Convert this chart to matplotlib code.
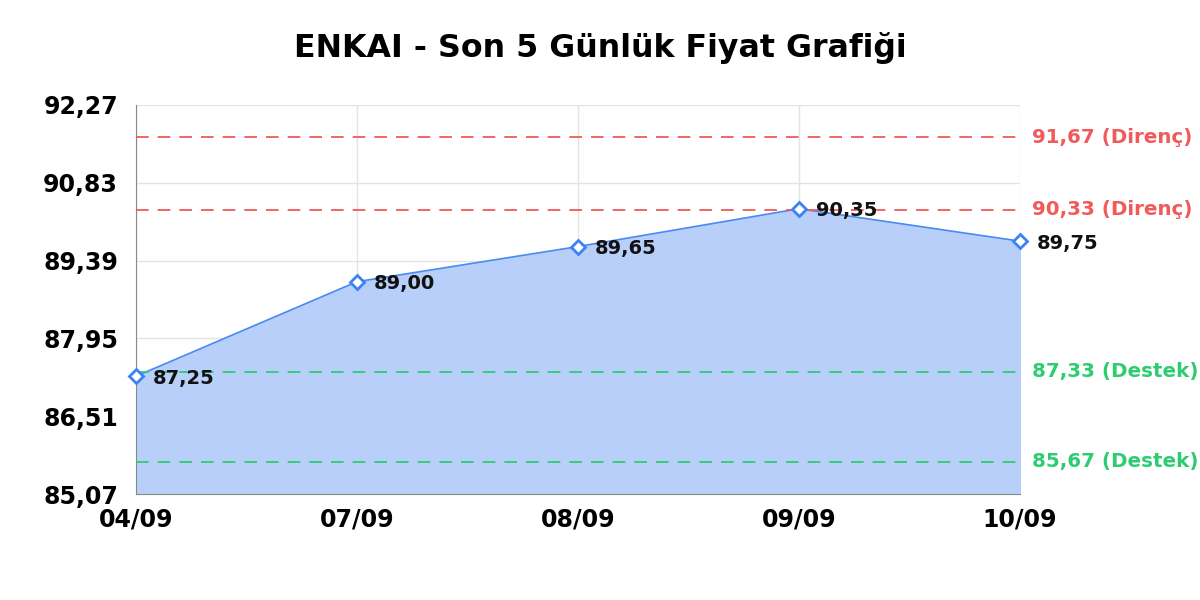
import matplotlib
matplotlib.use("Agg")
import matplotlib.pyplot as plt

dates = ["04/09", "07/09", "08/09", "09/09", "10/09"]
prices = [87.25, 89.00, 89.65, 90.35, 89.75]
price_labels = ["87,25", "89,00", "89,65", "90,35", "89,75"]
resistance = [91.67, 90.33]
resistance_labels = ["91,67 (Direnç)", "90,33 (Direnç)"]
support = [87.33, 85.67]
support_labels = ["87,33 (Destek)", "85,67 (Destek)"]
yticks = [85.07, 86.51, 87.95, 89.39, 90.83, 92.27]
ytick_labels = ["85,07", "86,51", "87,95", "89,39", "90,83", "92,27"]
title = "ENKAI - Son 5 Günlük Fiyat Grafiği"

plt.rcParams['font.family'] = ['DejaVu Sans']
fig = plt.figure(figsize=(12, 6), dpi=100)
ax = fig.add_axes([136/1200, 1-494/600, (1020-136)/1200, (494-105)/600])

x = list(range(len(dates)))
ymin, ymax = yticks[0], yticks[-1]
ax.set_xlim(0, len(dates)-1)
ax.set_ylim(ymin, ymax)

ax.fill_between(x, prices, ymin, color="#b7cff9", zorder=1)
ax.plot(x, prices, color="#4a8af4", lw=1.2, zorder=3)
ax.plot(x, prices, linestyle="none", marker="D", markersize=7,
        markerfacecolor="white", markeredgecolor="#3b82f6", markeredgewidth=2, zorder=5,
        clip_on=False)

for xi, p, lab in zip(x, prices, price_labels):
    ax.annotate(lab, (xi, p), xytext=(12, -1.5), textcoords="offset points",
                ha="left", va="center", fontsize=14, fontweight="bold", color="#111111", zorder=6)

for v, lab in zip(resistance, resistance_labels):
    ax.axhline(v, color="#f05a5a", lw=1.3, dashes=(7, 5), zorder=4)
    ax.annotate(lab, (1, v), xycoords=("axes fraction", "data"), xytext=(9, 0),
                textcoords="offset points", ha="left", va="center",
                fontsize=14.3, fontweight="bold", color="#f05a5a", annotation_clip=False)
for v, lab in zip(support, support_labels):
    ax.axhline(v, color="#2ecc71", lw=1.3, dashes=(7, 5), zorder=4)
    ax.annotate(lab, (1, v), xycoords=("axes fraction", "data"), xytext=(9, 0),
                textcoords="offset points", ha="left", va="center",
                fontsize=14.3, fontweight="bold", color="#2ecc71", annotation_clip=False)

ax.set_yticks(yticks)
ax.set_yticklabels(ytick_labels, fontsize=17, fontweight="bold")
ax.set_xticks(x)
ax.set_xticklabels(dates, fontsize=17, fontweight="bold")
ax.tick_params(axis="y", length=0, pad=13)
ax.tick_params(axis="x", length=0, pad=10)

ax.grid(True, color="#e3e3e3", lw=1, zorder=0)
ax.set_axisbelow(True)
for s in ["top", "right"]:
    ax.spines[s].set_visible(False)
ax.spines["left"].set_color("#888888")
ax.spines["bottom"].set_color("#888888")

fig.suptitle(title, x=0.5, y=1-48/600, va="center", fontsize=22.8, fontweight="bold")

fig.savefig("out.png", dpi=100)
